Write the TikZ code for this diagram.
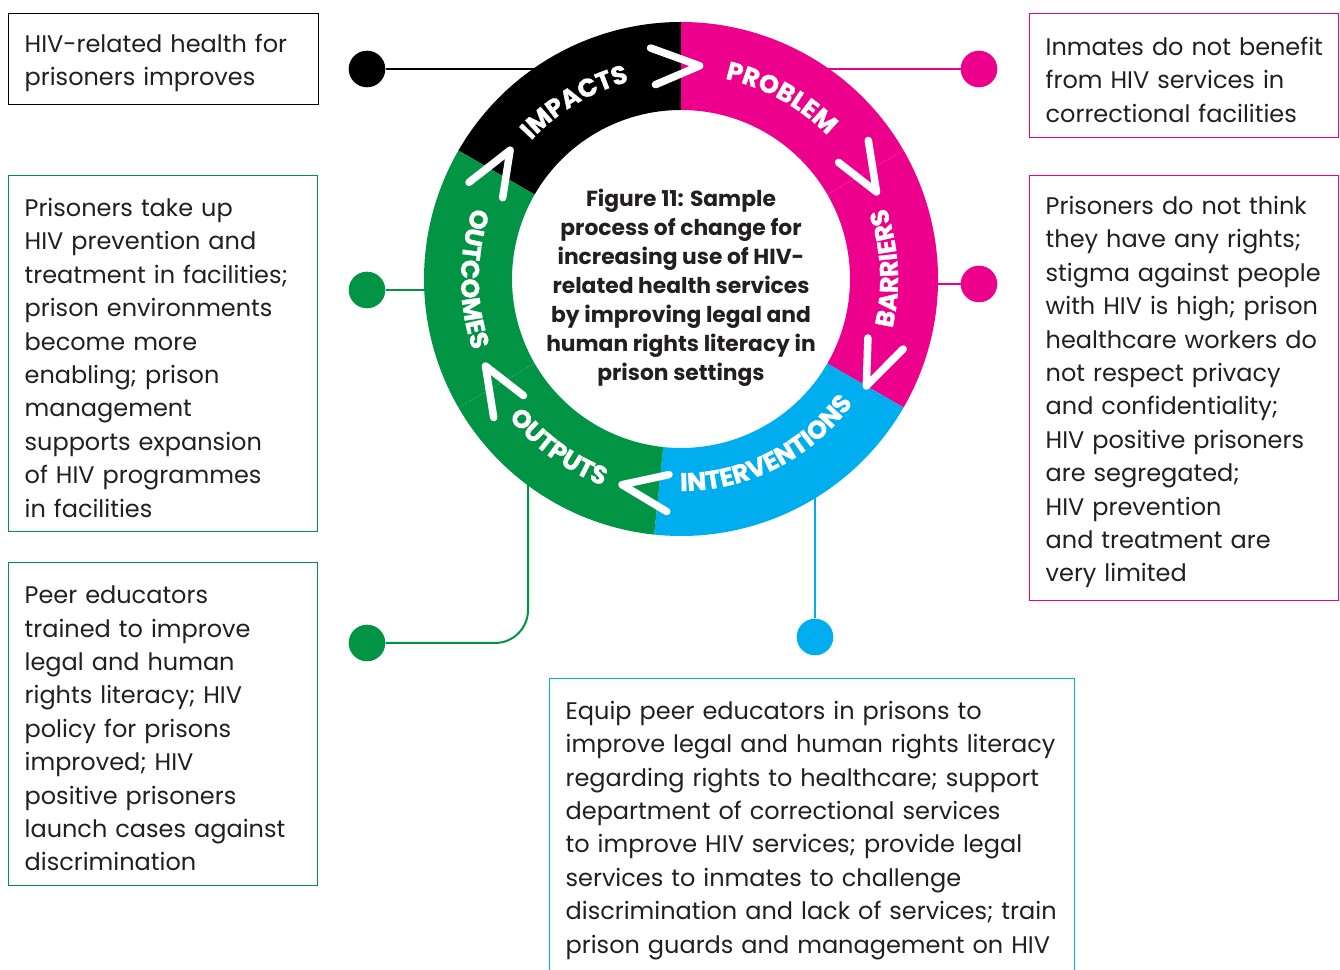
\documentclass[tikz,border=0pt]{standalone}
\usepackage{fontspec}
\setmainfont{Poppins}
\newfontfamily\ringfam{Poppins}[BoldFeatures={FakeBold=1.2}]
\usetikzlibrary{decorations.text}

\definecolor{ink}{HTML}{231F20}
\definecolor{hivpink}{HTML}{EC008C}
\definecolor{hivblue}{HTML}{00AEEF}
\definecolor{hivgreen}{HTML}{009444}

\newcommand{\bodyfont}{\fontsize{24}{33.4}\selectfont}
\newcommand{\titlefont}{\fontsize{21.8}{29}\selectfont\bfseries}
\newcommand{\ringfont}{\fontsize{25.5}{25.5}\selectfont\ringfam\bfseries}

\tikzset{
  textbox/.style={draw=#1, line width=1.3pt, anchor=north west, align=left,
    inner xsep=16pt, font=\bodyfont, text=ink,
    execute at begin node={\rightskip=-20pt plus 1fil\rule{0pt}{26.5pt}}},
  ringdot/.style={circle, fill=#1, minimum size=36.6pt, inner sep=0pt},
  linkline/.style={draw=#1, line width=2pt},
  chevron/.style={white, line width=7.5pt, line cap=round, line join=round}
}

\begin{document}
\begin{tikzpicture}[x=1pt,y=1pt]
        \useasboundingbox (0,0) rectangle (1340,969);
        \clip (0,0) rectangle (1340,969);

        % the boxes round the ring
        \node[textbox=black, text width=278pt, minimum height=91pt] (impact) at (8,956)
          {HIV-related health for\\prisoners improves};
        \node[textbox=hivgreen, text width=277pt, minimum height=356pt] (outcome) at (8,794)
          {Prisoners take up\\HIV prevention and\\treatment in facilities;\\prison environments\\become more\\enabling; prison\\management\\supports expansion\\of HIV programmes\\in facilities};
        \node[textbox=hivgreen, text width=277pt, minimum height=323pt] (output) at (8,407)
          {Peer educators\\trained to improve\\legal and human\\rights literacy; HIV\\policy for prisons\\improved; HIV\\positive prisoners\\launch cases against\\discrimination};
        \node[textbox=hivpink, text width=277pt, minimum height=124pt] (problem) at (1029,956)
          {Inmates do not benefit\\from HIV services in\\correctional facilities};
        \node[textbox=hivpink, text width=277pt, minimum height=425pt] (barrier) at (1029,794)
          {Prisoners do not think\\they have any rights;\\stigma against people\\with HIV is high; prison\\healthcare workers do\\not respect privacy\\and confidentiality;\\HIV positive prisoners\\are segregated;\\HIV prevention\\and treatment are\\very limited};
        \node[textbox=hivblue, text width=493pt, minimum height=295pt] (intervention) at (549,291)
          {Equip peer educators in prisons to\\improve legal and human rights literacy\\regarding rights to healthcare; support\\department of correctional services\\to improve HIV services; provide legal\\services to inmates to challenge\\discrimination and lack of services; train\\prison guards and management on HIV};

        % the dots and where their lines meet the ring
        \node[ringdot=black] (impdot) at (367,900) {};
        \node[ringdot=hivpink] (probdot) at (979,900) {};
        \node[ringdot=hivpink] (bardot) at (979,685) {};
        \node[ringdot=hivgreen] (outcdot) at (367,679) {};
        \node[ringdot=hivgreen] (outpdot) at (367,326) {};
        \node[ringdot=hivblue] (intdot) at (815,332) {};
        \coordinate (impend) at (540,900);
        \coordinate (probend) at (822,900);
        \coordinate (barend) at (930,685);
        \coordinate (outcend) at (432,679);
        \coordinate (outpend) at (528,492);
        \coordinate (intend) at (815,479);

        \draw[linkline=black] (impdot) -- (impend);
        \draw[linkline=hivpink] (probdot) -- (probend);
        \draw[linkline=hivpink] (bardot) -- (barend);
        \draw[linkline=hivgreen] (outcdot) -- (outcend);
        \draw[linkline=hivgreen, rounded corners=33pt] (outpdot) -| (outpend);
        \draw[linkline=hivblue] (intdot) -- (intend);

        % the ring
        \begin{scope}[shift={(681,690)}]
          \foreach \a/\b/\c in {90/150/black, -30/90/hivpink, -96/-30/hivblue, 150/264/hivgreen}
            \fill[\c] (\a:257pt) arc[start angle=\a, end angle=\b, radius=257pt]
              -- (\b:169pt) arc[start angle=\b, end angle=\a, radius=169pt] -- cycle;
          \foreach \a in {30,210}
            \draw[white, opacity=0.35, line width=0.6pt, densely dotted] (\a:169pt) -- (\a:257pt);

          % the arrows between the steps
          \foreach \a in {85,24,-30,-106,-156,143}
            \draw[chevron] (\a+12.5:233pt) -- (\a:214pt) -- (\a+12.5:196pt);

          % the step names
          \foreach \a/\b/\r/\t in {161/81/204/IMPACTS, 101/21/205/PROBLEM,
              -37/43/217/BARRIERS, -103/-23/212/INTERVENTIONS,
              -166/-86/221/OUTPUTS, 140/220/220/OUTCOMES}
            \path[decorate, decoration={text along path, text={|\ringfont|\t},
                text align=center, text color=white}]
              (\a:\r pt) arc[start angle=\a, end angle=\b, radius=\r pt];
        \end{scope}

        % the text in the middle
        \node[font=\titlefont, text=ink, align=center] (title) at (681,681)
          {Figure 11: Sample\\process of change for\\increasing use of HIV-\\related health services\\by improving legal and\\human rights literacy in\\prison settings};
\end{tikzpicture}
\end{document}
